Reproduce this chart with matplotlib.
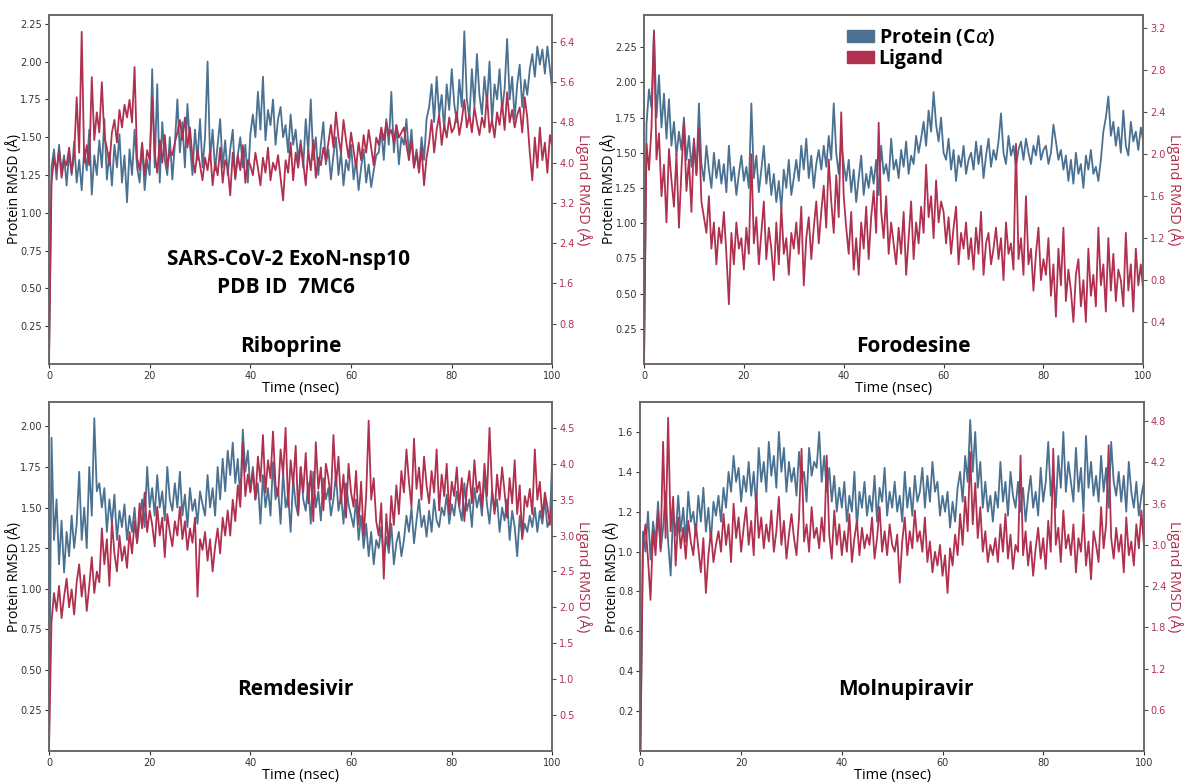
import matplotlib
matplotlib.use('Agg')
import matplotlib.pyplot as plt
import matplotlib.patches as mpatches
import numpy as np

font = {'family': 'Open Sans', 'size': 10}
matplotlib.rc('font', **font)

blue = '#4a7192'
red = '#b0304f'

# RMSD traces, one value every 0.5 ns
ribo_prot = [0.00,
    1.30, 1.42, 1.22, 1.45, 1.28, 1.38, 1.18, 1.40, 1.25, 1.47,
    1.20, 1.35, 1.15, 1.42, 1.28, 1.55, 1.12, 1.38, 1.25, 1.48,
    1.30, 1.62, 1.22, 1.40, 1.18, 1.45, 1.30, 1.52, 1.20, 1.38,
    1.07, 1.42, 1.25, 1.55, 1.30, 1.20, 1.45, 1.15, 1.35, 1.25,
    1.95, 1.30, 1.85, 1.20, 1.60, 1.35, 1.25, 1.50, 1.22, 1.45,
    1.75, 1.40, 1.60, 1.30, 1.72, 1.45, 1.25, 1.55, 1.35, 1.62,
    1.30, 1.50, 2.00, 1.35, 1.55, 1.28, 1.45, 1.62, 1.30, 1.48,
    1.25, 1.42, 1.55, 1.22, 1.38, 1.50, 1.30, 1.45, 1.20, 1.52,
    1.65, 1.50, 1.80, 1.55, 1.90, 1.48, 1.68, 1.58, 1.75, 1.45,
    1.62, 1.70, 1.50, 1.58, 1.40, 1.65, 1.45, 1.55, 1.35, 1.48,
    1.30, 1.62, 1.40, 1.75, 1.35, 1.50, 1.25, 1.45, 1.60, 1.32,
    1.42, 1.22, 1.38, 1.50, 1.25, 1.40, 1.18, 1.35, 1.28, 1.45,
    1.22, 1.35, 1.15, 1.30, 1.42, 1.20, 1.32, 1.17, 1.28, 1.38,
    1.40, 1.55, 1.35, 1.62, 1.45, 1.80, 1.40, 1.58, 1.32, 1.50,
    1.45, 1.62, 1.38, 1.55, 1.30, 1.42, 1.28, 1.50, 1.35, 1.62,
    1.70, 1.85, 1.60, 1.90, 1.65, 1.78, 1.55, 1.85, 1.68, 1.95,
    1.72, 1.60, 1.88, 1.70, 2.20, 1.75, 1.62, 1.95, 1.70, 2.05,
    1.78, 1.65, 1.90, 1.72, 2.00, 1.60, 1.85, 1.75, 1.95, 1.68,
    1.82, 2.15, 1.75, 1.90, 1.62, 1.85, 1.98, 1.70, 1.88, 1.78,
    1.95, 2.05, 1.90, 2.10, 1.98, 2.08, 1.92, 2.10, 1.95, 1.80]
ribo_lig = [0.00,
    3.60, 4.10, 3.85, 4.25, 3.70, 4.05, 3.95, 4.30, 3.80, 4.15,
    5.30, 4.20, 6.60, 4.00, 4.35, 3.95, 5.70, 4.45, 5.00, 4.60,
    5.60, 4.50, 4.30, 3.95, 4.60, 4.85, 4.40, 5.05, 4.70, 5.15,
    4.90, 5.25, 4.80, 5.90, 4.10, 3.85, 4.40, 3.75, 4.25, 4.05,
    5.30, 4.20, 3.80, 4.45, 4.00, 4.55, 3.90, 4.25, 4.15, 4.40,
    4.60, 4.85, 4.45, 4.90, 4.30, 4.70, 4.10, 3.80, 4.25, 3.95,
    3.65, 4.10, 3.85, 4.25, 3.55, 4.00, 3.75, 4.30, 3.60, 4.05,
    3.90, 3.35, 4.20, 3.70, 4.15, 3.85, 4.35, 3.60, 4.05, 3.95,
    3.75, 4.20, 3.90, 3.55, 4.10, 3.80, 4.30, 3.65, 4.00, 3.85,
    4.15, 3.70, 3.25, 4.05, 3.80, 4.40, 3.65, 4.20, 3.90, 4.35,
    4.00, 3.55, 4.25, 3.85, 4.45, 3.70, 4.10, 3.95, 4.30, 4.05,
    4.40, 4.75, 4.30, 5.00, 4.50, 4.20, 4.85, 4.45, 4.10, 4.60,
    4.25, 3.90, 4.40, 4.05, 4.55, 4.20, 4.65, 4.30, 3.95, 4.50,
    4.35, 4.70, 4.45, 4.80, 4.55, 4.65, 4.40, 4.75, 4.50, 4.60,
    4.70, 4.35, 4.05, 4.45, 3.90, 4.20, 3.80, 4.30, 3.55, 4.10,
    4.40, 4.85, 4.20, 4.65, 4.95, 4.35, 4.75, 4.50, 4.90, 4.60,
    4.70, 5.00, 4.55, 4.85, 5.25, 4.70, 4.95, 4.60, 5.10, 4.80,
    4.55, 4.90, 4.70, 5.35, 4.60, 4.85, 4.50, 5.00, 4.75, 5.20,
    4.65, 5.40, 4.80, 5.05, 4.70, 4.95, 5.10, 4.60, 5.30, 4.90,
    4.20, 3.65, 4.50, 3.90, 4.70, 4.05, 4.40, 3.80, 4.55, 4.30]

foro_prot = [0.00,
    1.70, 1.95, 1.82, 2.37, 1.75, 2.05, 1.68, 1.92, 1.60, 1.88,
    1.55, 1.72, 1.48, 1.65, 1.52, 1.75, 1.45, 1.62, 1.40, 1.58,
    1.35, 1.85, 1.42, 1.30, 1.55, 1.38, 1.25, 1.50, 1.32, 1.45,
    1.28, 1.42, 1.22, 1.55, 1.30, 1.40, 1.20, 1.35, 1.48, 1.30,
    1.40, 1.25, 1.85, 1.32, 1.48, 1.22, 1.38, 1.55, 1.28, 1.42,
    1.20, 1.35, 1.15, 1.30, 1.10, 1.38, 1.25, 1.45, 1.20, 1.32,
    1.45, 1.30, 1.55, 1.38, 1.60, 1.32, 1.48, 1.25, 1.42, 1.52,
    1.38, 1.55, 1.40, 1.62, 1.45, 1.85, 1.50, 1.35, 1.58, 1.42,
    1.30, 1.45, 1.22, 1.38, 1.15, 1.32, 1.48, 1.20, 1.35, 1.25,
    1.40, 1.28, 1.45, 1.20, 1.55, 1.35, 1.42, 1.30, 1.60, 1.38,
    1.45, 1.32, 1.52, 1.40, 1.58, 1.35, 1.48, 1.42, 1.62, 1.50,
    1.60, 1.72, 1.55, 1.80, 1.65, 1.93, 1.70, 1.58, 1.75, 1.50,
    1.45, 1.60, 1.38, 1.52, 1.30, 1.48, 1.40, 1.55, 1.35, 1.45,
    1.50, 1.38, 1.58, 1.42, 1.55, 1.32, 1.48, 1.60, 1.40, 1.52,
    1.45, 1.58, 1.78, 1.50, 1.42, 1.62, 1.48, 1.55, 1.40, 1.52,
    1.58, 1.45, 1.60, 1.50, 1.42, 1.55, 1.48, 1.62, 1.45, 1.52,
    1.55, 1.42, 1.50, 1.70, 1.58, 1.45, 1.52, 1.38, 1.48, 1.30,
    1.45, 1.28, 1.50, 1.35, 1.42, 1.25, 1.48, 1.38, 1.52, 1.35,
    1.40, 1.30, 1.45, 1.65, 1.75, 1.90, 1.62, 1.72, 1.55, 1.68,
    1.50, 1.80, 1.55, 1.48, 1.72, 1.58, 1.65, 1.52, 1.68, 1.58]
foro_lig = [0.00,
    2.10, 1.85, 2.25, 3.17, 1.95, 2.20, 1.60, 1.90, 1.35, 2.05,
    1.75, 1.50, 2.00, 1.30, 1.85, 2.30, 1.65, 1.95, 1.45, 2.15,
    1.80, 2.25, 1.55, 1.40, 1.25, 1.60, 1.10, 1.35, 0.95, 1.30,
    1.15, 1.45, 1.05, 0.57, 1.25, 0.95, 1.35, 1.10, 1.20, 0.90,
    1.30, 1.05, 2.00, 1.15, 1.40, 0.95, 1.25, 1.55, 1.00, 1.30,
    1.10, 0.80, 1.35, 0.95, 1.50, 1.05, 1.20, 0.85, 1.25, 1.10,
    1.35, 1.05, 1.50, 0.75, 1.20, 1.40, 1.00, 1.30, 1.55, 1.15,
    1.45, 1.70, 1.30, 1.95, 1.55, 1.25, 1.80, 1.40, 2.40, 1.60,
    1.30, 1.05, 1.45, 0.90, 1.20, 0.85, 1.35, 1.10, 1.50, 1.00,
    1.40, 1.65, 1.25, 2.30, 1.45, 1.20, 1.60, 1.05, 1.35, 1.15,
    0.95, 1.30, 1.05, 1.45, 0.85, 1.20, 1.55, 1.00, 1.35, 1.15,
    1.50, 1.25, 1.90, 1.40, 1.60, 1.20, 1.75, 1.35, 1.55, 1.45,
    1.15, 1.40, 1.05, 1.30, 1.50, 0.95, 1.25, 1.10, 1.35, 1.00,
    1.20, 0.90, 1.30, 1.05, 1.45, 0.85, 1.15, 1.25, 0.95, 1.10,
    1.30, 1.00, 1.20, 0.80, 1.35, 1.05, 1.15, 0.90, 2.10, 1.00,
    1.20, 0.85, 1.60, 0.95, 1.10, 0.70, 1.05, 1.30, 0.80, 1.00,
    0.85, 1.20, 0.65, 0.95, 0.45, 1.10, 0.75, 1.30, 0.60, 0.90,
    0.70, 0.40, 0.85, 1.00, 0.55, 0.80, 0.40, 1.10, 0.65, 0.85,
    0.55, 1.30, 0.75, 0.95, 0.50, 1.20, 0.70, 1.05, 0.60, 0.90,
    0.80, 0.55, 1.25, 0.70, 0.95, 0.50, 1.10, 0.75, 0.95, 0.70]

remd_prot = [0.00,
    1.93, 1.30, 1.55, 1.15, 1.42, 1.10, 1.35, 1.20, 1.45, 1.25,
    1.40, 1.72, 1.30, 1.50, 1.25, 1.75, 1.45, 2.05, 1.60, 1.65,
    1.50, 1.62, 1.35, 1.55, 1.40, 1.58, 1.30, 1.48, 1.38, 1.52,
    1.30, 1.45, 1.35, 1.50, 1.28, 1.42, 1.55, 1.38, 1.75, 1.50,
    1.62, 1.45, 1.70, 1.50, 1.60, 1.42, 1.75, 1.55, 1.48, 1.65,
    1.50, 1.72, 1.45, 1.58, 1.38, 1.62, 1.48, 1.55, 1.40, 1.60,
    1.52, 1.45, 1.70, 1.50, 1.62, 1.45, 1.75, 1.55, 1.80, 1.60,
    1.85, 1.70, 1.90, 1.65, 1.80, 1.55, 1.98, 1.72, 1.85, 1.60,
    1.75, 1.55, 1.65, 1.40, 1.70, 1.50, 1.62, 1.45, 1.78, 1.55,
    1.62, 1.40, 1.72, 1.50, 1.58, 1.35, 1.68, 1.52, 1.45, 1.75,
    1.55, 1.48, 1.65, 1.40, 1.72, 1.50, 1.60, 1.42, 1.68, 1.55,
    1.62, 1.45, 1.55, 1.70, 1.48, 1.58, 1.40, 1.65, 1.52, 1.45,
    1.38, 1.55, 1.30, 1.45, 1.25, 1.40, 1.20, 1.35, 1.15, 1.30,
    1.25, 1.38, 1.18, 1.32, 1.22, 1.40, 1.15, 1.28, 1.35, 1.20,
    1.30, 1.45, 1.35, 1.50, 1.28, 1.42, 1.55, 1.38, 1.45, 1.32,
    1.48, 1.35, 1.55, 1.42, 1.38, 1.50, 1.45, 1.58, 1.40, 1.52,
    1.45, 1.60, 1.50, 1.42, 1.65, 1.48, 1.55, 1.38, 1.62, 1.50,
    1.58, 1.45, 1.70, 1.52, 1.40, 1.60, 1.48, 1.55, 1.35, 1.50,
    1.42, 1.55, 1.30, 1.48, 1.38, 1.20, 1.45, 1.32, 1.40, 1.35,
    1.45, 1.38, 1.50, 1.35, 1.48, 1.40, 1.55, 1.38, 1.42, 1.85]
remd_lig = [0.00,
    1.80, 2.20, 1.95, 2.30, 1.85, 2.15, 2.40, 2.00, 2.25, 1.90,
    2.35, 2.60, 2.15, 2.45, 1.95, 2.30, 2.70, 2.20, 2.50, 2.35,
    3.10, 2.60, 2.95, 2.30, 3.20, 2.75, 2.50, 3.00, 2.65, 2.85,
    2.55, 3.05, 2.75, 3.20, 2.90, 3.45, 3.10, 3.60, 3.05, 3.35,
    3.15, 2.85, 3.40, 3.00, 3.25, 2.70, 3.30, 3.05, 2.85, 3.20,
    3.00, 3.40, 2.95, 3.20, 2.80, 3.10, 2.90, 3.25, 2.15, 2.95,
    2.80, 3.05, 2.65, 2.95, 2.50, 2.85, 3.10, 2.75, 3.25, 3.00,
    3.35, 3.00, 3.50, 3.20, 3.70, 3.40, 4.30, 3.55, 3.85, 3.60,
    3.90, 3.50, 4.10, 3.75, 4.40, 3.60, 4.05, 3.80, 4.45, 3.70,
    3.55, 4.20, 3.85, 4.50, 3.40, 4.05, 3.70, 4.25, 3.30, 3.95,
    3.60, 4.15, 3.45, 3.90, 3.20, 4.30, 3.65, 3.95, 3.35, 4.00,
    3.80, 3.50, 4.40, 3.70, 4.10, 3.45, 3.85, 3.25, 4.00, 3.60,
    3.40, 3.90, 3.15, 3.75, 3.00, 3.55, 4.60, 3.50, 3.80, 3.20,
    3.00, 3.45, 2.40, 3.30, 2.85, 3.55, 3.15, 3.70, 3.30, 3.90,
    3.60, 4.20, 3.75, 3.40, 4.35, 3.65, 3.95, 3.50, 4.10, 3.70,
    3.45, 3.90, 3.60, 4.20, 3.35, 3.85, 3.55, 4.00, 3.30, 3.75,
    3.55, 3.95, 3.40, 3.80, 3.20, 3.65, 3.90, 3.45, 4.05, 3.60,
    3.75, 3.40, 4.00, 3.55, 4.50, 3.65, 3.30, 3.85, 3.50, 3.95,
    3.60, 3.25, 3.80, 3.45, 4.05, 3.30, 3.70, 2.95, 3.55, 3.40,
    3.65, 3.30, 4.20, 3.50, 3.75, 3.25, 3.60, 3.40, 3.15, 3.50]

moln_prot = [0.00,
    1.10, 1.00, 1.20, 0.96, 1.15, 1.05, 1.25, 1.00, 1.12, 1.30,
    1.05, 0.88, 1.20, 1.08, 1.28, 1.10, 1.22, 1.05, 1.30, 1.15,
    1.20, 1.08, 1.28, 1.15, 1.32, 1.10, 1.22, 1.05, 1.25, 1.18,
    1.28, 1.15, 1.32, 1.22, 1.40, 1.30, 1.48, 1.35, 1.42, 1.25,
    1.38, 1.30, 1.45, 1.28, 1.40, 1.22, 1.52, 1.35, 1.45, 1.30,
    1.55, 1.38, 1.48, 1.32, 1.60, 1.40, 1.52, 1.30, 1.45, 1.35,
    1.42, 1.28, 1.50, 1.35, 1.40, 1.25, 1.52, 1.38, 1.45, 1.42,
    1.60, 1.35, 1.48, 1.30, 1.42, 1.25, 1.38, 1.20, 1.32, 1.22,
    1.35, 1.15, 1.28, 1.20, 1.40, 1.12, 1.30, 1.22, 1.35, 1.18,
    1.28, 1.20, 1.38, 1.15, 1.32, 1.25, 1.42, 1.18, 1.30, 1.22,
    1.35, 1.20, 1.28, 1.15, 1.40, 1.22, 1.32, 1.18, 1.38, 1.25,
    1.30, 1.42, 1.22, 1.38, 1.25, 1.45, 1.30, 1.35, 1.18, 1.28,
    1.20, 1.30, 1.12, 1.25, 1.15, 1.32, 1.40, 1.25, 1.48, 1.35,
    1.66, 1.40, 1.60, 1.32, 1.45, 1.22, 1.35, 1.20, 1.28, 1.15,
    1.30, 1.22, 1.45, 1.25, 1.35, 1.18, 1.40, 1.28, 1.22, 1.35,
    1.20, 1.32, 1.15, 1.28, 1.38, 1.22, 1.30, 1.18, 1.42, 1.25,
    1.35, 1.55, 1.28, 1.40, 1.22, 1.48, 1.32, 1.60, 1.30, 1.45,
    1.35, 1.25, 1.52, 1.30, 1.42, 1.20, 1.58, 1.32, 1.45, 1.28,
    1.38, 1.25, 1.48, 1.30, 1.42, 1.22, 1.55, 1.35, 1.28, 1.40,
    1.25, 1.38, 1.20, 1.45, 1.30, 1.22, 1.35, 1.18, 1.28, 1.35]
moln_lig = [0.00,
    3.00, 3.30, 2.80, 2.20, 3.20, 2.85, 3.50, 2.95, 4.50, 3.10,
    4.85, 3.20, 3.70, 2.70, 3.40, 2.95, 3.25, 2.80, 3.35, 3.05,
    2.85, 3.30, 2.95, 2.60, 3.10, 2.30, 2.85, 3.20, 2.75, 3.00,
    3.20, 2.90, 3.45, 3.00, 3.30, 2.75, 3.60, 3.10, 3.40, 2.90,
    3.25, 3.55, 3.00, 3.35, 2.85, 3.75, 3.10, 3.40, 2.95, 3.30,
    3.05, 3.50, 2.90, 3.20, 3.70, 3.00, 3.35, 2.80, 3.15, 3.45,
    3.10, 2.85, 3.40, 4.40, 3.05, 3.30, 2.90, 3.55, 3.10, 3.25,
    2.95, 3.40, 3.05, 4.30, 3.15, 2.80, 3.50, 3.00, 3.30, 2.85,
    3.20, 2.90, 3.45, 2.75, 3.10, 3.35, 2.85, 3.25, 2.95, 3.15,
    3.00, 3.40, 2.80, 3.10, 3.55, 2.90, 3.20, 2.85, 3.30, 3.00,
    2.90, 3.15, 2.45, 3.05, 3.40, 2.85, 3.20, 2.95, 3.50, 3.05,
    3.20, 2.90, 3.40, 2.75, 3.05, 2.60, 2.90, 2.70, 3.00, 2.55,
    2.85, 2.30, 2.95, 2.70, 3.15, 2.85, 3.45, 3.00, 3.70, 3.20,
    4.35, 3.30, 3.90, 3.10, 3.55, 2.90, 3.20, 2.75, 3.00, 2.85,
    3.10, 2.75, 3.30, 2.90, 3.45, 2.80, 3.15, 2.65, 3.00, 2.90,
    4.30, 2.85, 3.20, 2.70, 3.05, 2.55, 2.95, 3.25, 2.80, 3.10,
    2.65, 3.35, 2.90, 4.40, 3.00, 3.25, 2.75, 3.50, 2.95, 3.15,
    2.85, 3.30, 2.60, 3.10, 2.90, 3.45, 2.70, 3.05, 2.50, 3.20,
    3.00, 2.75, 3.55, 2.95, 3.30, 4.45, 3.10, 2.80, 3.25, 2.90,
    3.15, 2.60, 3.40, 2.85, 3.05, 2.70, 3.30, 2.95, 3.50, 3.00]

names = ['Riboprine', 'Forodesine', 'Remdesivir', 'Molnupiravir']
prot_data = [ribo_prot, foro_prot, remd_prot, moln_prot]
lig_data = [ribo_lig, foro_lig, remd_lig, moln_lig]

# axis limits and tick values per panel
prot_ylim = [2.31, 2.48, 2.15, 1.75]
lig_ylim = [6.94, 3.33, 4.86, 5.08]
prot_ticks = [[0.25, 0.50, 0.75, 1.00, 1.25, 1.50, 1.75, 2.00, 2.25],
              [0.25, 0.50, 0.75, 1.00, 1.25, 1.50, 1.75, 2.00, 2.25],
              [0.25, 0.50, 0.75, 1.00, 1.25, 1.50, 1.75, 2.00],
              [0.2, 0.4, 0.6, 0.8, 1.0, 1.2, 1.4, 1.6]]
lig_ticks = [[0.8, 1.6, 2.4, 3.2, 4.0, 4.8, 5.6, 6.4],
             [0.4, 0.8, 1.2, 1.6, 2.0, 2.4, 2.8, 3.2],
             [0.5, 1.0, 1.5, 2.0, 2.5, 3.0, 3.5, 4.0, 4.5],
             [0.6, 1.2, 1.8, 2.4, 3.0, 3.6, 4.2, 4.8]]
prot_fmt = ['%.2f', '%.2f', '%.2f', '%.1f']

positions = [[0.0413, 0.5357, 0.4245, 0.4455],
             [0.5430, 0.5357, 0.4210, 0.4455],
             [0.0413, 0.0421, 0.4245, 0.4451],
             [0.5400, 0.0421, 0.4245, 0.4451]]
name_xy = [(0.48, 0.05), (0.54, 0.05), (0.49, 0.175), (0.527, 0.175)]

fig = plt.figure(figsize=(11.86, 7.84), dpi=100)

for i in range(4):
    ax = fig.add_axes(positions[i])
    t = np.linspace(0, 100, len(prot_data[i]))
    ax.plot(t, prot_data[i], color=blue, lw=1.3)
    ax.set_xlim(0, 100)
    ax.set_ylim(0, prot_ylim[i])
    ax.set_xticks([0, 20, 40, 60, 80, 100])
    ax.set_yticks(prot_ticks[i])
    ax.set_yticklabels([prot_fmt[i] % v for v in prot_ticks[i]])
    ax.tick_params(labelsize=7, colors='#333333', length=3, width=0.8, pad=2,
                   labelfontfamily='DejaVu Sans')
    ax.set_xlabel('Time (nsec)', labelpad=0, fontsize=10.5)
    ax.set_ylabel('Protein RMSD (Å)', labelpad=-1)

    ax2 = ax.twinx()
    t2 = np.linspace(0, 100, len(lig_data[i]))
    ax2.plot(t2, lig_data[i], color=red, lw=1.3)
    ax2.set_ylim(0, lig_ylim[i])
    ax2.set_yticks(lig_ticks[i])
    ax2.set_yticklabels(['%.1f' % v for v in lig_ticks[i]])
    ax2.tick_params(labelsize=7, colors=red, length=3, width=0.8, pad=2,
                    labelfontfamily='DejaVu Sans')
    ax2.tick_params(axis='y', color='#555555')
    ax2.set_ylabel('Ligand RMSD (Å)', color=red, rotation=270,
                   va='bottom', labelpad=0, fontsize=10.5)

    for a in (ax, ax2):
        for s in a.spines.values():
            s.set_color('#666666')
            s.set_linewidth(1.1)

    ax2.text(name_xy[i][0], name_xy[i][1], names[i], transform=ax2.transAxes,
             ha='center', va='center', fontsize=15, fontweight='bold',
             family='Open Sans')

    if i == 0:
        ax2.text(0.476, 0.298, 'SARS-CoV-2 ExoN-nsp10', transform=ax2.transAxes,
                 ha='center', va='center', fontsize=15, fontweight='bold')
        ax2.text(0.47, 0.22, 'PDB ID  7MC6', transform=ax2.transAxes,
                 ha='center', va='center', fontsize=15, fontweight='bold')
    if i == 1:
        handles = [mpatches.Patch(color=blue, label=r'Protein (C$\alpha$)'),
                   mpatches.Patch(color=red, label='Ligand')]
        ax2.legend(handles=handles, loc='upper left', bbox_to_anchor=(0.39, 0.99),
                   frameon=False, handlelength=1.4, handleheight=0.55,
                   handletextpad=0.25, labelspacing=0.05, borderaxespad=0,
                   prop={'family': 'Open Sans', 'weight': 'bold', 'size': 14})

fig.savefig('out.png', dpi=100)
